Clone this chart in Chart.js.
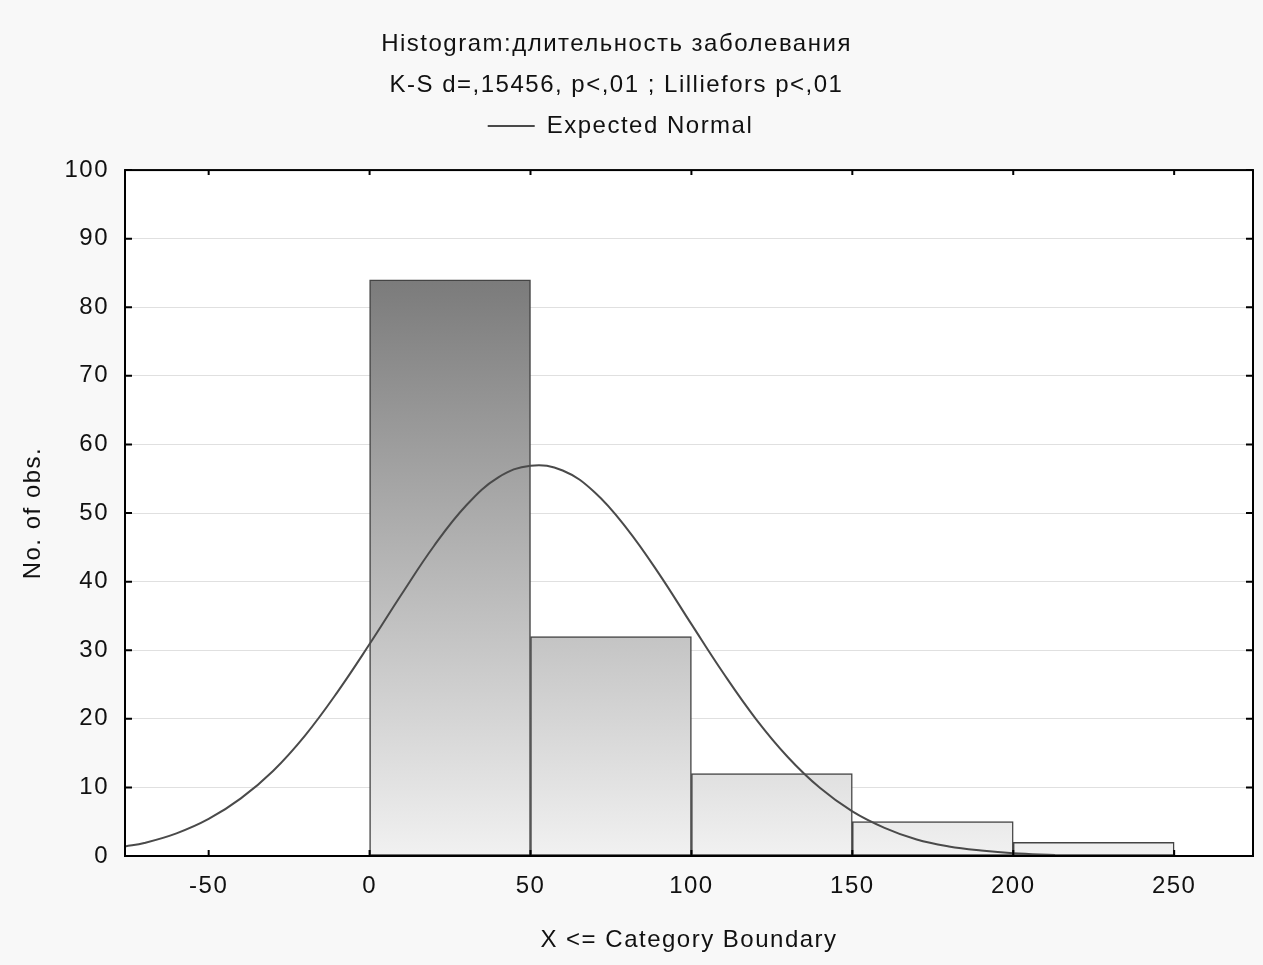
<!DOCTYPE html>
<html>
<head>
<meta charset="utf-8">
<title>Histogram</title>
<script src="https://cdn.jsdelivr.net/npm/chart.js@4.4.1/dist/chart.umd.min.js"></script>
<style>
  body { margin: 0; background: #f8f8f8; }
  canvas { display: block; }
</style>
</head>
<body>
<canvas id="histograma" width="1263" height="965"></canvas>
<script>
// bins of 50: centre of each bin and number of observations
const binCenters = [25, 75, 125, 175, 225];
const counts = [84, 32, 12, 5, 2];

// expected normal curve
const curveX = [-76, -70, -60, -50, -40, -30, -20, -10, 0, 10, 20, 30, 40, 50, 60, 70, 80, 90,
  100, 110, 120, 130, 140, 150, 160, 170, 180, 190, 200, 213];
const curveY = [1.4, 1.9, 3.3, 5.4, 8.4, 12.4, 17.6, 23.9, 30.9, 38.2, 45.2, 51.1, 55.2, 56.9, 56.2, 53.0, 47.7, 41.1,
  33.8, 26.6, 20.0, 14.4, 9.9, 6.5, 4.1, 2.4, 1.4, 0.8, 0.4, 0.15];

const xTicks = [-50, 0, 50, 100, 150, 200, 250];

const fonte = "'Liberation Sans', Arial, sans-serif";

// the original text is slightly spread out
const espacamento = {
  id: 'espacamento',
  beforeLayout(chart) { chart.ctx.letterSpacing = '1.5px'; },
  beforeDraw(chart) { chart.ctx.letterSpacing = '1.5px'; }
};

// title and legend sit a little left of the page centre
const deslocaTitulo = {
  id: 'deslocaTitulo',
  afterLayout(chart) {
    if (chart.titleBlock) chart.titleBlock.right -= 20;
    if (chart.legend) chart.legend.right -= 12;
  }
};

// white plot area
const fundoPlot = {
  id: 'fundoPlot',
  beforeDraw(chart) {
    const { ctx, chartArea } = chart;
    ctx.save();
    ctx.fillStyle = '#ffffff';
    ctx.fillRect(chartArea.left, chartArea.top, chartArea.right - chartArea.left, chartArea.bottom - chartArea.top);
    ctx.restore();
  }
};

// frame and inward tick marks on all four sides
const moldura = {
  id: 'moldura',
  afterDatasetsDraw(chart) {
    const { ctx, chartArea, scales } = chart;
    ctx.save();
    ctx.strokeStyle = '#000';
    ctx.lineWidth = 2;
    ctx.beginPath();
    scales.y.ticks.forEach(tk => {
      const y = scales.y.getPixelForValue(tk.value);
      ctx.moveTo(chartArea.left, y); ctx.lineTo(chartArea.left + 7, y);
      ctx.moveTo(chartArea.right, y); ctx.lineTo(chartArea.right - 7, y);
    });
    scales.x.ticks.forEach(tk => {
      const x = scales.x.getPixelForValue(tk.value);
      ctx.moveTo(x, chartArea.bottom); ctx.lineTo(x, chartArea.bottom - 6);
      ctx.moveTo(x, chartArea.top); ctx.lineTo(x, chartArea.top + 5);
    });
    ctx.stroke();
    ctx.strokeRect(chartArea.left, chartArea.top, chartArea.right - chartArea.left, chartArea.bottom - chartArea.top);
    ctx.restore();
  }
};

// a bit of extra room under the legend
const espacoLegenda = {
  id: 'espacoLegenda',
  beforeInit(chart) {
    const fitOriginal = chart.legend.fit;
    chart.legend.fit = function () {
      fitOriginal.bind(chart.legend)();
      this.height += 22;
    };
  }
};

function gradienteBarras(context) {
  const { chart } = context;
  const { ctx, chartArea, scales } = chart;
  if (!chartArea) return '#bbbbbb';
  const g = ctx.createLinearGradient(0, scales.y.getPixelForValue(Math.max(...counts)), 0, scales.y.getPixelForValue(0));
  g.addColorStop(0, '#7b7b7b');
  g.addColorStop(1, '#f1f1f1');
  return g;
}

const ctx = document.getElementById('histograma');
new Chart(ctx, {
  type: 'bar',
  data: {
    datasets: [{
      type: 'line',
      label: 'Expected Normal',
      data: curveX.map((x, i) => ({ x: x, y: curveY[i] })),
      borderColor: '#4a4a4a',
      borderWidth: 2,
      pointRadius: 0,
      pointStyle: 'line',
      tension: 0.4,
      fill: false,
      order: 0
    },
    {
      type: 'bar',
      label: 'bins',
      data: binCenters.map((x, i) => ({ x: x, y: counts[i] })),
      backgroundColor: gradienteBarras,
      borderColor: '#444444',
      borderWidth: 1.5,
      borderSkipped: false,
      barPercentage: 1,
      categoryPercentage: 1,
      order: 1
    }]
  },
  options: {
    responsive: false,
    animation: false,
    layout: { padding: { left: 0, right: 10, top: 0, bottom: 0 } },
    plugins: {
      title: {
        display: true,
        text: ['Histogram:длительность заболевания', 'K-S d=,15456, p<,01 ; Lilliefors p<,01'],
        color: '#111',
        font: { family: fonte, size: 24, weight: 'normal', lineHeight: 1.71 },
        padding: { top: 24, bottom: 0 }
      },
      legend: {
        display: true,
        labels: {
          filter: item => item.text === 'Expected Normal',
          usePointStyle: true,
          pointStyle: 'line',
          pointStyleWidth: 47,
          color: '#111',
          font: { family: fonte, size: 24 },
          padding: 8
        }
      },
      tooltip: { enabled: false }
    },
    scales: {
      x: {
        type: 'linear',
        min: -76,
        max: 274.5,
        offset: false,
        afterBuildTicks: scale => { scale.ticks = xTicks.map(v => ({ value: v })); },
        afterFit: scale => { scale.height = 109; },
        grid: { display: false, drawTicks: false },
        border: { display: false },
        ticks: { color: '#111', font: { family: fonte, size: 24 }, padding: 16, maxRotation: 0 },
        title: {
          display: true,
          text: 'X <= Category Boundary',
          color: '#111',
          font: { family: fonte, size: 24 },
          padding: { top: 0, bottom: 10 }
        }
      },
      y: {
        min: 0,
        max: 100,
        afterFit: scale => { scale.width = 125; },
        grid: { color: '#e0e0e0', lineWidth: 1, drawTicks: false },
        border: { display: false },
        ticks: { stepSize: 10, color: '#111', font: { family: fonte, size: 24 }, padding: 16 },
        title: {
          display: true,
          text: 'No. of obs.',
          color: '#111',
          font: { family: fonte, size: 24 },
          padding: { top: 19, bottom: 0 }
        }
      }
    }
  },
  plugins: [espacamento, deslocaTitulo, fundoPlot, moldura, espacoLegenda]
});
</script>
</body>
</html>
